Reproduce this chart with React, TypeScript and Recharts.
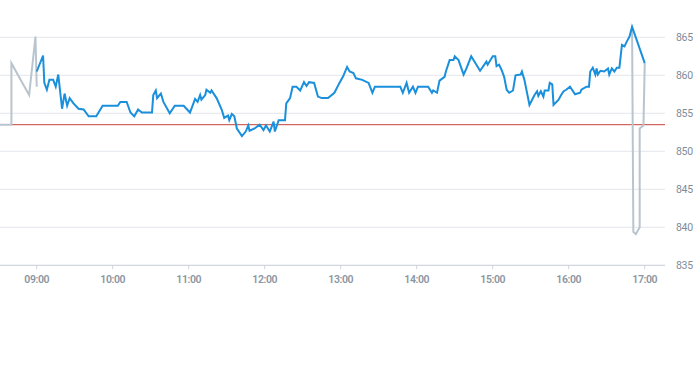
import React from 'react';
import { LineChart, Line, XAxis, YAxis, CartesianGrid, ReferenceLine } from 'recharts';

// regular session (blue)
const sessionTimes = [
  '09:00', '09:05', '09:06', '09:08', '09:10', '09:13', '09:15', '09:17', '09:20', '09:22',
  '09:24', '09:26', '09:29', '09:33', '09:37', '09:41', '09:47', '09:52', '10:04', '10:06',
  '10:11', '10:14', '10:17', '10:20', '10:23', '10:31', '10:32', '10:34', '10:35', '10:38',
  '10:40', '10:45', '10:49', '10:56', '11:01', '11:05', '11:07', '11:09', '11:10', '11:13',
  '11:14', '11:17', '11:18', '11:22', '11:26', '11:28', '11:31', '11:32', '11:34', '11:36',
  '11:38', '11:42', '11:45', '11:47', '11:48', '11:52', '11:56', '11:59', '12:01', '12:04',
  '12:07', '12:08', '12:11', '12:16', '12:17', '12:20', '12:22', '12:25', '12:28', '12:31',
  '12:33', '12:35', '12:39', '12:42', '12:45', '12:50', '12:55', '12:59', '13:02', '13:05',
  '13:07', '13:10', '13:12', '13:17', '13:22', '13:25', '13:27', '13:47', '13:49', '13:52',
  '13:54', '13:57', '13:59', '14:01', '14:09', '14:12', '14:13', '14:16', '14:18', '14:22',
  '14:23', '14:26', '14:29', '14:30', '14:33', '14:37', '14:39', '14:43', '14:50', '14:55',
  '14:56', '15:00', '15:02', '15:03', '15:05', '15:07', '15:09', '15:11', '15:13', '15:16',
  '15:18', '15:22', '15:23', '15:25', '15:29', '15:33', '15:35', '15:36', '15:38', '15:40',
  '15:41', '15:44', '15:45', '15:47', '15:48', '15:52', '15:54', '15:56', '15:58', '16:01',
  '16:05', '16:09', '16:10', '16:14', '16:16', '16:17', '16:19', '16:21', '16:22', '16:23',
  '16:25', '16:28', '16:31', '16:32', '16:34', '16:36', '16:38', '16:40', '16:42', '16:44',
  '16:46', '16:48', '16:50', '17:00',
];
const sessionPrices = [
  860.5, 862.6, 859.0, 858.1, 859.4, 859.4, 858.5, 860.1, 855.6, 857.6,
  856.0, 857.0, 856.3, 855.6, 855.5, 854.6, 854.6, 856.0, 856.0, 856.5,
  856.5, 855.1, 854.6, 855.5, 855.1, 855.1, 857.4, 858.0, 857.0, 857.6,
  856.5, 855.0, 856.0, 856.0, 855.1, 856.9, 856.5, 857.4, 856.8, 857.4,
  858.1, 857.7, 858.0, 857.0, 855.5, 854.4, 854.7, 854.1, 854.9, 854.6,
  853.0, 852.0, 852.6, 853.4, 852.7, 853.0, 853.5, 852.8, 853.4, 852.6,
  853.9, 852.6, 854.1, 854.1, 856.3, 857.0, 858.5, 858.5, 858.0, 859.1,
  858.6, 859.1, 859.0, 857.2, 857.0, 857.0, 857.7, 859.0, 859.9, 861.1,
  860.5, 860.3, 859.6, 859.4, 859.0, 857.7, 858.5, 858.5, 857.7, 859.0,
  857.7, 858.5, 857.7, 858.5, 858.5, 857.7, 858.0, 857.7, 859.3, 859.8,
  860.5, 862.0, 862.0, 862.5, 862.0, 860.1, 860.8, 862.5, 860.6, 861.8,
  861.4, 862.5, 862.5, 861.2, 861.4, 860.7, 859.8, 858.1, 857.7, 858.0,
  860.0, 860.1, 860.5, 859.4, 856.1, 857.4, 857.9, 857.3, 857.9, 857.2,
  858.0, 858.0, 859.0, 858.8, 856.1, 856.8, 857.4, 857.9, 858.1, 858.5,
  857.5, 857.7, 858.1, 858.5, 858.5, 860.5, 861.0, 860.1, 860.9, 860.1,
  860.6, 860.5, 860.9, 860.1, 860.9, 860.5, 861.0, 861.0, 864.0, 863.8,
  864.5, 865.1, 866.4, 861.6,
];

// pre-market and closing auction (grey)
const preTimes = ['08:31', '08:40', '08:40', '08:54', '08:59', '09:00'];
const prePrices = [853.5, 853.5, 861.6, 857.4, 865.1, 858.5];
const postTimes = ['16:50', '16:51', '16:53', '16:56', '16:56', '16:59', '17:00'];
const postPrices = [866.4, 839.4, 839.1, 840.0, 853.0, 853.4, 861.6];

const previousClose = 853.5;
const refStart = '08:40';

const hourTicks = ['09:00', '10:00', '11:00', '12:00', '13:00', '14:00', '15:00', '16:00', '17:00'];
const priceTicks = [835, 840, 845, 850, 855, 860, 865];

const toMin = (s: string) => {
  const [h, m] = s.split(':').map(Number);
  return h * 60 + m;
};
const fmt = (v: number) =>
  `${String(Math.floor(v / 60)).padStart(2, '0')}:${String(v % 60).padStart(2, '0')}`;

const build = (times: string[], prices: number[]) =>
  times.map((t, i) => ({ t: toMin(t), v: prices[i] }));

const sessionData = build(sessionTimes, sessionPrices);
const preData = build(preTimes, prePrices);
const postData = build(postTimes, postPrices);

const DOMAIN_END = toMin('17:16');
const FONT = "Roboto, 'Liberation Sans', sans-serif";

export default function App() {
  return (
    <div style={{ position: 'absolute', left: 0, top: 0 }}>
      <LineChart
        width={693}
        height={365}
        margin={{ top: 14.5, right: 0, left: 0, bottom: 69.7 }}
      >
        <CartesianGrid
          vertical={false}
          stroke="#e3e7eb"
          horizontalValues={priceTicks}
        />
        <XAxis
          dataKey="t"
          type="number"
          domain={[toMin('08:31'), DOMAIN_END]}
          allowDataOverflow
          ticks={hourTicks.map(toMin)}
          tickFormatter={fmt}
          stroke="#ccd4db"
          tickSize={4}
          tickMargin={6}
          height={30}
          tick={{ fill: '#8a96a2', fontSize: 10.5, fontWeight: 600, fontFamily: FONT, letterSpacing: -0.4 }}
        />
        <YAxis
          orientation="right"
          type="number"
          domain={[835, 868]}
          allowDataOverflow
          ticks={priceTicks}
          width={28}
          axisLine={false}
          tickLine={false}
          tickSize={6}
          tickMargin={5}
          tick={{ fill: '#7f8b98', fontSize: 10.5, fontFamily: FONT, letterSpacing: -0.3, textAnchor: 'start' }}
        />
        <ReferenceLine
          segment={[
            { x: toMin(refStart), y: previousClose },
            { x: DOMAIN_END, y: previousClose },
          ]}
          stroke="#c8403a"
          strokeWidth={1}
        />
        <Line data={preData} dataKey="v" stroke="#b9c5ce" strokeWidth={2} dot={false} isAnimationActive={false} />
        <Line data={postData} dataKey="v" stroke="#b9c5ce" strokeWidth={2} dot={false} isAnimationActive={false} />
        <Line data={sessionData} dataKey="v" stroke="#1a8fdc" strokeWidth={2} dot={false} isAnimationActive={false} />
      </LineChart>
    </div>
  );
}
